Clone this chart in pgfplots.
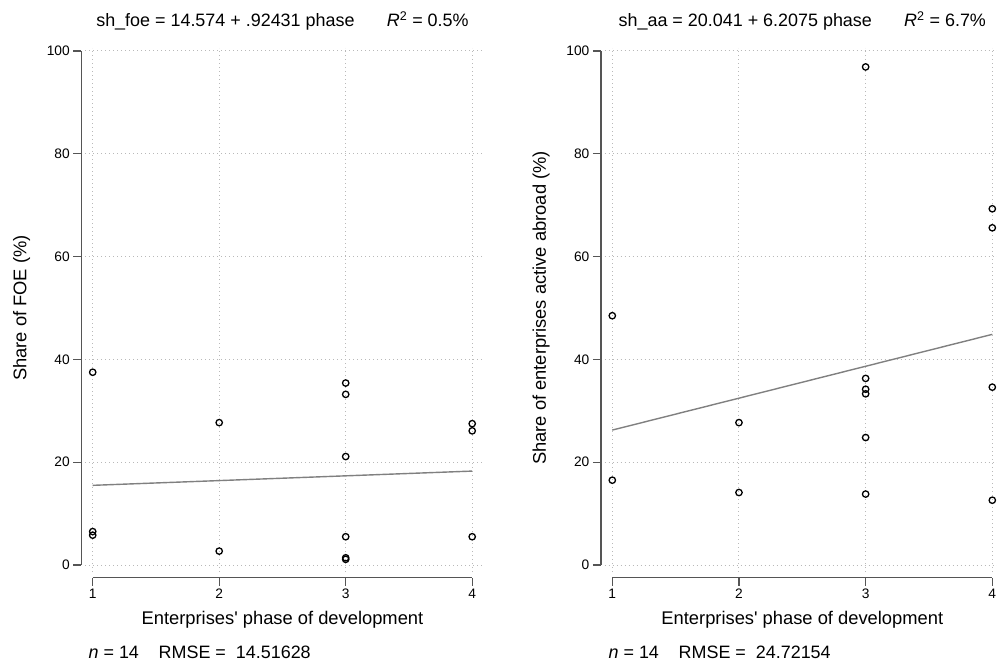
\documentclass[border=0pt]{standalone}
\usepackage{fontspec}
\setmainfont{Liberation Sans}[Ligatures=TeXOff]
\usepackage{pgfplots}
\pgfplotsset{compat=1.18}

\definecolor{axgray}{RGB}{85,85,85}
\definecolor{gridgray}{RGB}{185,185,185}
\definecolor{fitgray}{RGB}{128,128,128}

\tikzset{gridsty/.style={draw=gridgray, line width=1bp, dash pattern=on 1bp off 3bp}}

\pgfplotsset{stata/.style={
  scale only axis, width=379.5bp, height=514bp,
  xmin=1, xmax=4, ymin=0, ymax=100,
  axis lines=left, axis line style={-, draw=axgray, line width=1.3bp},
  axis x line shift=12.7bp, axis y line shift=11.4bp,
  xtick={1,2,3,4}, ytick={0,20,40,60,80,100},
  tick align=outside, major tick length=8bp,
  every tick/.style={draw=axgray, line width=1.2bp},
  /pgf/number format/assume math mode=true,
  ticklabel style={font=\fontsize{13.8}{15}\selectfont},
  clip=false,
  title style={at={(axis description cs:0.5,1.047)}, anchor=center, font=\fontsize{18}{20}\selectfont},
  xlabel style={at={(axis description cs:0.5,-0.107)}, anchor=center, font=\fontsize{18.4}{20}\selectfont},
  ylabel style={at={(axis description cs:-0.187,0.5)}, anchor=center, font=\fontsize{18.4}{20}\selectfont},
  xlabel={Enterprises' phase of development},
}}

\begin{document}
\begin{tikzpicture}
\path[use as bounding box] (0,0) rectangle (997bp,663bp);

% ---------- left panel ----------
\begin{axis}[stata, at={(92.7bp,98bp)}, anchor=south west,
  title={sh\_foe = 14.574 + .92431 phase\hspace{1.8em}\textit{R}\textsuperscript{2} = 0.5\%},
  ylabel={Share of FOE (\%)}]
\pgfplotsinvokeforeach{0,20,40,60,80,100}{\draw[gridsty] ([xshift=-7.7bp]axis cs:1,#1) -- ([xshift=11bp]axis cs:4,#1);}
\pgfplotsinvokeforeach{1,2,3,4}{\draw[gridsty] ([yshift=-7bp]axis cs:#1,0) -- ([yshift=3bp]axis cs:#1,100);}
\addplot[only marks, mark=o, mark size=3.2bp, mark options={line width=1.3bp, draw=black}]
  coordinates {
  (1,37.5) (1,6.5) (1,5.8)
  (2,27.7) (2,2.7)
  (3,35.4) (3,33.2) (3,21.1) (3,5.5) (3,1.4) (3,1.1)
  (4,27.5) (4,26.1) (4,5.5)
  };
\addplot[fitgray, line width=1.4bp] coordinates {(1,15.498) (4,18.271)};
\node[anchor=west, font=\fontsize{18}{20}\selectfont] at (axis description cs:-0.02,-0.169)
  {\textit{n} = 14\hspace{1.1em}RMSE =\ \ 14.51628};
\end{axis}

% ---------- right panel ----------
\begin{axis}[stata, width=380bp, at={(612.3bp,98bp)}, anchor=south west,
  title={sh\_aa = 20.041 + 6.2075 phase\hspace{1.8em}\textit{R}\textsuperscript{2} = 6.7\%},
  ylabel={Share of enterprises active abroad (\%)}]
\pgfplotsinvokeforeach{0,20,40,60,80,100}{\draw[gridsty] ([xshift=-7.7bp]axis cs:1,#1) -- ([xshift=11bp]axis cs:4,#1);}
\pgfplotsinvokeforeach{1,2,3,4}{\draw[gridsty] ([yshift=-7bp]axis cs:#1,0) -- ([yshift=3bp]axis cs:#1,100);}
\addplot[only marks, mark=o, mark size=3.2bp, mark options={line width=1.3bp, draw=black}]
  coordinates {
  (1,48.5) (1,16.5)
  (2,27.7) (2,14.1)
  (3,96.9) (3,36.3) (3,34.2) (3,33.3) (3,24.8) (3,13.8)
  (4,69.3) (4,65.6) (4,34.6) (4,12.6)
  };
\addplot[fitgray, line width=1.4bp] coordinates {(1,26.249) (4,44.871)};
\node[anchor=west, font=\fontsize{18}{20}\selectfont] at (axis description cs:-0.019,-0.169)
  {\textit{n} = 14\hspace{1.1em}RMSE =\ \ 24.72154};
\end{axis}
\end{tikzpicture}
\end{document}
